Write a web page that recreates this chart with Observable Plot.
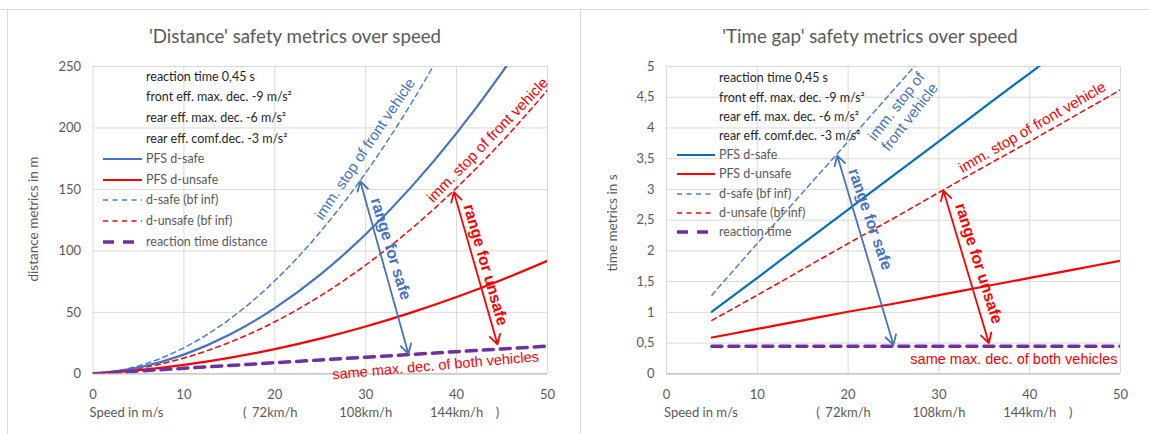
<!DOCTYPE html>
<html><head><meta charset="utf-8">
<script src="https://cdn.jsdelivr.net/npm/d3@7"></script>
<script src="https://cdn.jsdelivr.net/npm/@observablehq/plot@0.6"></script>
<style>
body{margin:0;background:#fff;}
#root{position:relative;width:1149px;height:434px;overflow:hidden;background:#fff;font-family:Lato, sans-serif;}
.abs{position:absolute;white-space:nowrap;}
.title{font-size:18.7px;color:#595959;transform:translateX(-50%);top:25px;line-height:22px;}
.ytitle{font-size:13.5px;color:#595959;transform:translate(-50%,-50%) rotate(-90deg);line-height:16px;}
.lg{font-size:12.5px;line-height:16px;display:flex;align-items:center;}
.line{position:absolute;background:#d9d9d9;}
</style></head><body><div id="root"></div>
<script>
// ---------- data ----------
const speedsL = [0, 5, 10, 15, 20, 25, 30, 35, 40, 45, 50];
const pfsSafeL = [0, 5.03, 15.61, 31.75, 53.44, 80.69, 113.5, 151.86, 195.78, 245.25, 300.28];
const pfsUnsafeL = [0, 2.94, 7.28, 13.0, 20.11, 28.61, 38.5, 49.78, 62.44, 76.5, 91.94];
const bfSafeL = [0, 6.42, 21.17, 44.25, 75.67, 115.42, 163.5, 219.92, 284.67, 357.75, 439.17];
const bfUnsafeL = [0, 4.33, 12.83, 25.5, 42.33, 63.33, 88.5, 117.83, 151.33, 189.0, 230.83];
const reactL = [0, 2.25, 4.5, 6.75, 9, 11.25, 13.5, 15.75, 18, 20.25, 22.5];

const speedsR = [5, 10, 15, 20, 25, 30, 35, 40, 45, 50];
const pfsSafeR = [1.01, 1.56, 2.12, 2.67, 3.23, 3.78, 4.34, 4.89, 5.45, 6.01];
const pfsUnsafeR = [0.59, 0.73, 0.87, 1.01, 1.14, 1.28, 1.42, 1.56, 1.70, 1.84];
const bfSafeR = [1.28, 2.12, 2.95, 3.78, 4.62, 5.45, 6.28, 7.12, 7.95, 8.78];
const bfUnsafeR = [0.87, 1.28, 1.70, 2.12, 2.53, 2.95, 3.37, 3.78, 4.20, 4.62];
const reactR = [0.45, 0.45, 0.45, 0.45, 0.45, 0.45, 0.45, 0.45, 0.45, 0.45];

const xTicks = [0, 10, 20, 30, 40, 50];
const yTicksL = [0, 50, 100, 150, 200, 250];
const yTicksR = [0, 0.5, 1, 1.5, 2, 2.5, 3, 3.5, 4, 4.5, 5];
const kmhTicks = [20, 30, 40];
const kmhLabels = ["72km/h", "108km/h", "144km/h"];

const titleL = "'Distance' safety metrics over speed";
const titleR = "'Time gap' safety metrics over speed";
const yLabelL = "distance metrics in m";
const yLabelR = "time metrics in s";
const xLabel = "Speed in m/s";
const paramLines = ["reaction time 0,45 s", "front eff. max. dec. -9 m/s²", "rear eff. max. dec. -6 m/s²", "rear eff. comf.dec. -3 m/s²"];
const legendL = ["PFS d-safe", "PFS d-unsafe", "d-safe (bf inf)", "d-unsafe (bf inf)", "reaction time distance"];
const legendR = ["PFS d-safe", "PFS d-unsafe", "d-safe (bf inf)", "d-unsafe (bf inf)", "reaction time"];

// annotations (anchor in data units)
const notesL = [
  {v: 29.87, y: 183.3, text: "imm. stop of front vehicle", kind: "safe", angle: -56},
  {v: 43.37, y: 190.5, text: "imm. stop of front vehicle", kind: "unsafe", angle: -46},
  {v: 32.84, y: 101.9, text: "range for safe", kind: "safe", angle: 73, bold: true},
  {v: 43.27, y: 88.8, text: "range for unsafe", kind: "unsafe", angle: 74, bold: true},
  {v: 37.68, y: 7.2, text: "same max. dec. of both vehicles", kind: "unsafe", angle: -5}
];
const notesR = [
  {v: 26.0, y: 4.27, text: "imm. stop of\nfront vehicle", kind: "safe", angle: -52},
  {v: 40.25, y: 4.02, text: "imm. stop of front vehicle", kind: "unsafe", angle: -30},
  {v: 22.52, y: 2.52, text: "range for safe", kind: "safe", angle: 71, bold: true},
  {v: 34.47, y: 1.80, text: "range for unsafe", kind: "unsafe", angle: 72.5, bold: true},
  {v: 49.67, y: 0.254, text: "same max. dec. of both vehicles", kind: "unsafe", angle: 0, anchor: "end"}
];
const arrowsL = [
  {kind: "safe", x1: 29.4, y1: 156.7, x2: 34.7, y2: 16.3},
  {kind: "unsafe", x1: 39.7, y1: 147.8, x2: 44.5, y2: 24}
];
const arrowsR = [
  {kind: "safe", x1: 18.8, y1: 3.55, x2: 25.0, y2: 0.47},
  {kind: "unsafe", x1: 30.5, y1: 2.98, x2: 35.5, y2: 0.5}
];

// ---------- styles ----------
const BLUE = "#4472C4", BLUE_R = "#0070C0", BLUE_D = "#4d7fd3", RED = "#FF0000", PURPLE = "#7030A0";
const GRID = "#d9d9d9", TXT = "#595959";
const ANN = {safe: BLUE, unsafe: RED};

function rows(xs, ys) { return xs.map((x, i) => ({x, y: ys[i]})); }

function chart(o) {
  const lineStyles = [
    {d: o.bfSafe, stroke: BLUE_D, strokeWidth: 1.5, strokeDasharray: "5,4"},
    {d: o.bfUnsafe, stroke: RED, strokeWidth: 1.5, strokeDasharray: "5,4"},
    {d: o.pfsSafe, stroke: o.blue, strokeWidth: 2.2},
    {d: o.pfsUnsafe, stroke: RED, strokeWidth: 2.2},
    {d: o.react, stroke: PURPLE, strokeWidth: 3.5, strokeDasharray: "10,7"}
  ];
  const marks = [
    Plot.ruleX(xTicks, {stroke: GRID, strokeWidth: 1}),
    Plot.ruleY(o.yTicks, {stroke: GRID, strokeWidth: 1}),
    Plot.ruleY([0], {stroke: "#bfbfbf", strokeWidth: 1.2}),
    ...lineStyles.map(s => Plot.line(rows(o.speeds, s.d), {
      x: "x", y: "y", stroke: s.stroke, strokeWidth: s.strokeWidth,
      strokeDasharray: s.strokeDasharray, curve: "monotone-x", clip: true
    }))
  ];
  for (const a of o.arrows) {
    const mx = (a.x1 + a.x2) / 2, my = (a.y1 + a.y2) / 2;
    for (const [ex, ey] of [[a.x1, a.y1], [a.x2, a.y2]]) {
      marks.push(Plot.arrow([{x1: mx, y1: my, x2: ex, y2: ey}], {
        x1: "x1", y1: "y1", x2: "x2", y2: "y2", stroke: ANN[a.kind], strokeWidth: 1.8,
        headLength: 9, bend: 0
      }));
    }
  }
  for (const n of o.notes) {
    marks.push(Plot.text([n], {
      x: "v", y: "y", text: "text", rotate: n.angle, fill: ANN[n.kind],
      fontFamily: "Liberation Sans, Arial, sans-serif",
      fontSize: n.bold ? 16 : (n.text.startsWith("same") ? 14.5 : 15),
      fontWeight: n.bold ? "bold" : "normal",
      textAnchor: n.anchor || "middle", lineHeight: 1.15
    }));
  }
  marks.push(Plot.text(kmhTicks.map((t, i) => ({t, s: kmhLabels[i]})), {
    x: "t", text: "s", frameAnchor: "bottom", dy: 43, fill: TXT, fontSize: 13
  }));
  marks.push(Plot.text([kmhTicks[0]], {x: d => d, text: () => "(", frameAnchor: "bottom", dy: 43, dx: -30, fill: TXT, fontSize: 13}));
  marks.push(Plot.text([kmhTicks[2]], {x: d => d, text: () => ")", frameAnchor: "bottom", dy: 43, dx: 41, fill: TXT, fontSize: 13}));
  marks.push(Plot.text([xLabel], {text: d => d, frameAnchor: "bottom-left", textAnchor: "start", dy: 43, dx: o.xlabDx, fill: TXT, fontSize: 13}));

  return Plot.plot({
    width: o.width, height: 434,
    marginLeft: o.ml, marginRight: o.mr, marginTop: 66, marginBottom: 60.7,
    style: {fontFamily: "Lato, sans-serif", fontSize: "13px", color: TXT, background: "transparent", overflow: "visible"},
    x: {domain: [0, 50], ticks: xTicks, tickSize: 0, tickPadding: 16, label: null},
    y: {domain: o.yDomain, ticks: o.yTicks, tickSize: 0, tickPadding: 12, tickFormat: o.fmt, label: null},
    marks
  });
}

const root = document.getElementById("root");
function add(html, cls, style) {
  const d = document.createElement("div");
  d.className = "abs " + (cls || "");
  Object.assign(d.style, style || {});
  d.innerHTML = html;
  root.appendChild(d);
  return d;
}

// panel borders
add("", "line", {left: "0px", top: "9px", width: "1149px", height: "1px"});
add("", "line", {left: "7px", top: "9px", width: "1px", height: "425px"});
add("", "line", {left: "580px", top: "9px", width: "1px", height: "425px"});

const svgL = chart({
  width: 580, ml: 92.5, mr: 33, speeds: speedsL, pfsSafe: pfsSafeL, pfsUnsafe: pfsUnsafeL,
  bfSafe: bfSafeL, bfUnsafe: bfUnsafeL, react: reactL, blue: BLUE,
  yDomain: [0, 250], yTicks: yTicksL, fmt: d => String(d), notes: notesL, arrows: arrowsL, xlabDx: -3.5
});
const svgR = chart({
  width: 569, ml: 86, mr: 29, speeds: speedsR, pfsSafe: pfsSafeR, pfsUnsafe: pfsUnsafeR,
  bfSafe: bfSafeR, bfUnsafe: bfUnsafeR, react: reactR, blue: BLUE_R,
  yDomain: [0, 5], yTicks: yTicksR, fmt: d => String(d).replace(".", ","), notes: notesR, arrows: arrowsR, xlabDx: -2.5
});
const wL = add("", "", {left: "0px", top: "0px"}); wL.appendChild(svgL);
const wR = add("", "", {left: "580px", top: "0px"}); wR.appendChild(svgR);

// titles
add(titleL, "title", {left: "295px"});
add(titleR, "title", {left: "870px"});
add(yLabelL, "ytitle", {left: "33px", top: "219px"});
add(yLabelR, "ytitle", {left: "612px", top: "223px"});

// legends
function symbol(kind, blue, w) {
  const st = {
    safe: `stroke="${blue}" stroke-width="2.2"`,
    unsafe: `stroke="${RED}" stroke-width="2.2"`,
    bfsafe: `stroke="${BLUE_D}" stroke-width="1.5" stroke-dasharray="5,4.5"`,
    bfunsafe: `stroke="${RED}" stroke-width="1.5" stroke-dasharray="5,4.5"`,
    react: `stroke="${PURPLE}" stroke-width="3.5" stroke-dasharray="${w > 34 ? "11,9" : "10,8"}"`
  }[kind];
  const len = kind === "react" ? (w > 34 ? 31 : 30) : w;
  return `<svg width="${w}" height="10" style="position:absolute;left:${-w - 4}px;top:3px"><line x1="0" x2="${len}" y1="5" y2="5" ${st}/></svg>`;
}
function legend(textX, y0, dy, labels, blue, symW) {
  const kinds = ["safe", "unsafe", "bfsafe", "bfunsafe", "react"];
  paramLines.forEach((t, i) => add(t, "lg", {left: textX + "px", top: (y0 + i * dy - 8) + "px", color: "#1f1f1f"}));
  labels.forEach((t, i) => {
    const j = i + paramLines.length;
    add(symbol(kinds[i], blue, symW) + t, "lg", {left: textX + "px", top: (y0 + j * dy - 8) + "px", color: TXT});
  });
}
legend(146, 76.7, 20.6, legendL, BLUE, 39);
legend(719, 78.3, 19.2, legendR, BLUE_R, 38);
</script></body></html>
